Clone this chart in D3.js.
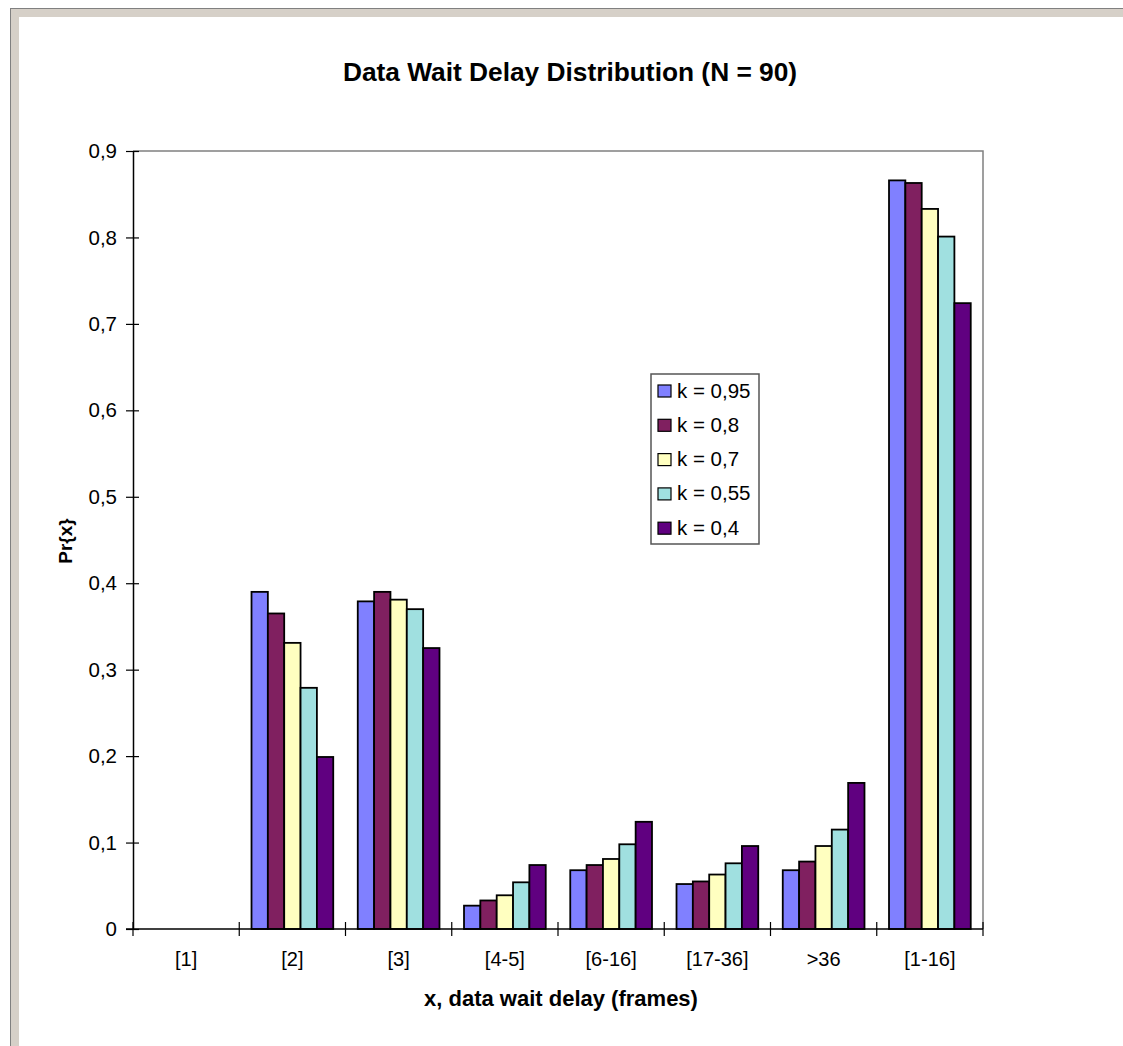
<!DOCTYPE html>
<html>
<head>
<meta charset="utf-8">
<script src="https://cdn.jsdelivr.net/npm/d3@7"></script>
<style>
  html, body { margin: 0; padding: 0; background: #fff; }
  svg { display: block; font-family: "Liberation Sans", Arial, sans-serif; }
</style>
</head>
<body>
<svg id="chart" width="1123" height="1046"></svg>
<script>
// Delay bins on the x axis
const categories = ["[1]", "[2]", "[3]", "[4-5]", "[6-16]", "[17-36]", ">36", "[1-16]"];

// One series per smoothing factor k
const seriesNames = ["k = 0,95", "k = 0,8", "k = 0,7", "k = 0,55", "k = 0,4"];
const k095 = [0, 0.390, 0.379, 0.027, 0.068, 0.052, 0.068, 0.866];
const k080 = [0, 0.365, 0.390, 0.033, 0.074, 0.055, 0.078, 0.863];
const k070 = [0, 0.331, 0.381, 0.039, 0.081, 0.063, 0.096, 0.833];
const k055 = [0, 0.279, 0.370, 0.054, 0.098, 0.076, 0.115, 0.801];
const k040 = [0, 0.199, 0.325, 0.074, 0.124, 0.096, 0.169, 0.724];
const seriesValues = [k095, k080, k070, k055, k040];
const seriesColors = ["#8080ff", "#802060", "#ffffc0", "#a0e0e0", "#600080"];

const yTicks = [0, 0.1, 0.2, 0.3, 0.4, 0.5, 0.6, 0.7, 0.8, 0.9];

const svg = d3.select("#chart");
const W = 1123, H = 1046;
const plot = { left: 133, right: 983, top: 151, bottom: 929 };

// Window-style frame along the top and left edges
svg.append("rect").attr("x", 10).attr("y", 8).attr("width", W - 10).attr("height", H - 8).attr("fill", "#808080");
svg.append("rect").attr("x", 11).attr("y", 9).attr("width", W - 11).attr("height", H - 9).attr("fill", "#d6d0c8");
svg.append("rect").attr("x", 19).attr("y", 17).attr("width", W - 19).attr("height", H - 17).attr("fill", "#ffffff");

const x0 = d3.scaleBand().domain(categories).range([plot.left, plot.right]).padding(0);
const x1 = d3.scaleBand().domain(seriesNames).range([0, x0.bandwidth()]).paddingInner(0).paddingOuter(0.75);
const y = d3.scaleLinear().domain([0, 0.9]).range([plot.bottom, plot.top]);
const fmt = v => d3.format(".1f")(v).replace(".", ",").replace(/^0,0$/, "0");

// Plot area outline (top and right in grey)
svg.append("path")
  .attr("d", `M${plot.left},${plot.top}H${plot.right}V${plot.bottom}`)
  .attr("fill", "none").attr("stroke", "#808080").attr("stroke-width", 1.5);

// Bars
const groups = svg.append("g").selectAll("g")
  .data(seriesNames.map((name, i) => ({ name, color: seriesColors[i], values: seriesValues[i] })))
  .join("g")
  .attr("fill", d => d.color);

groups.selectAll("rect")
  .data(d => d.values.map((v, j) => ({ name: d.name, cat: categories[j], v })).filter(e => e.v > 0))
  .join("rect")
  .attr("x", e => x0(e.cat) + x1(e.name))
  .attr("y", e => y(e.v))
  .attr("width", x1.bandwidth())
  .attr("height", e => y(0) - y(e.v))
  .attr("stroke", "#000")
  .attr("stroke-width", 1.8);

// Y axis with ticks crossing the line
const yAxis = d3.axisLeft(y).tickValues(yTicks).tickFormat(fmt).tickSizeInner(7).tickSizeOuter(0).tickPadding(9);
const gy = svg.append("g").attr("transform", `translate(${plot.left},0)`).call(yAxis);
gy.select(".domain").attr("stroke", "#000").attr("stroke-width", 1.5);
gy.selectAll(".tick line").attr("x2", 6).attr("x1", -7).attr("stroke", "#000").attr("stroke-width", 1.2);
gy.selectAll(".tick text").attr("font-size", 20.5).attr("fill", "#000").attr("font-family", "Liberation Sans, Arial, sans-serif");

// X axis: ticks at category boundaries, labels centred in each band
const gx = svg.append("g").attr("transform", `translate(0,${plot.bottom})`);
gx.append("line").attr("x1", plot.left - 7).attr("x2", plot.right).attr("stroke", "#000").attr("stroke-width", 1.5);
const bounds = categories.map(c => x0(c)).concat([x0.range()[1]]);
gx.selectAll(".bt").data(bounds).join("line")
  .attr("x1", d => d).attr("x2", d => d).attr("y1", -7).attr("y2", 7)
  .attr("stroke", "#000").attr("stroke-width", 1.2);
gx.selectAll(".cl").data(categories).join("text")
  .attr("x", d => x0(d) + x0.bandwidth() / 2)
  .attr("y", 37)
  .attr("text-anchor", "middle")
  .attr("font-size", 20)
  .text(d => d);

// Titles
svg.append("text").attr("x", 570).attr("y", 81).attr("text-anchor", "middle")
  .attr("font-size", 26.3).attr("font-weight", "bold").text("Data Wait Delay Distribution (N = 90)");
svg.append("text").attr("x", 561).attr("y", 1006).attr("text-anchor", "middle")
  .attr("font-size", 22).attr("font-weight", "bold").text("x, data wait delay (frames)");
svg.append("text").attr("transform", "translate(72,541) rotate(-90)").attr("text-anchor", "middle")
  .attr("font-size", 19).attr("font-weight", "bold").text("Pr{x}");

// Legend
const lg = svg.append("g").attr("transform", "translate(651,374)");
lg.append("rect").attr("width", 108).attr("height", 170).attr("fill", "#fff")
  .attr("stroke", "#555").attr("stroke-width", 1.5);
const items = lg.selectAll(".li").data(seriesNames).join("g")
  .attr("transform", (d, i) => `translate(0,${17 + i * 34.3})`);
items.append("rect").attr("x", 7).attr("y", -6).attr("width", 13).attr("height", 12)
  .attr("fill", (d, i) => seriesColors[i]).attr("stroke", "#000").attr("stroke-width", 1.2);
items.append("text").attr("x", 26).attr("y", 6.5).attr("font-size", 20.5).text(d => d);
</script>
</body>
</html>
